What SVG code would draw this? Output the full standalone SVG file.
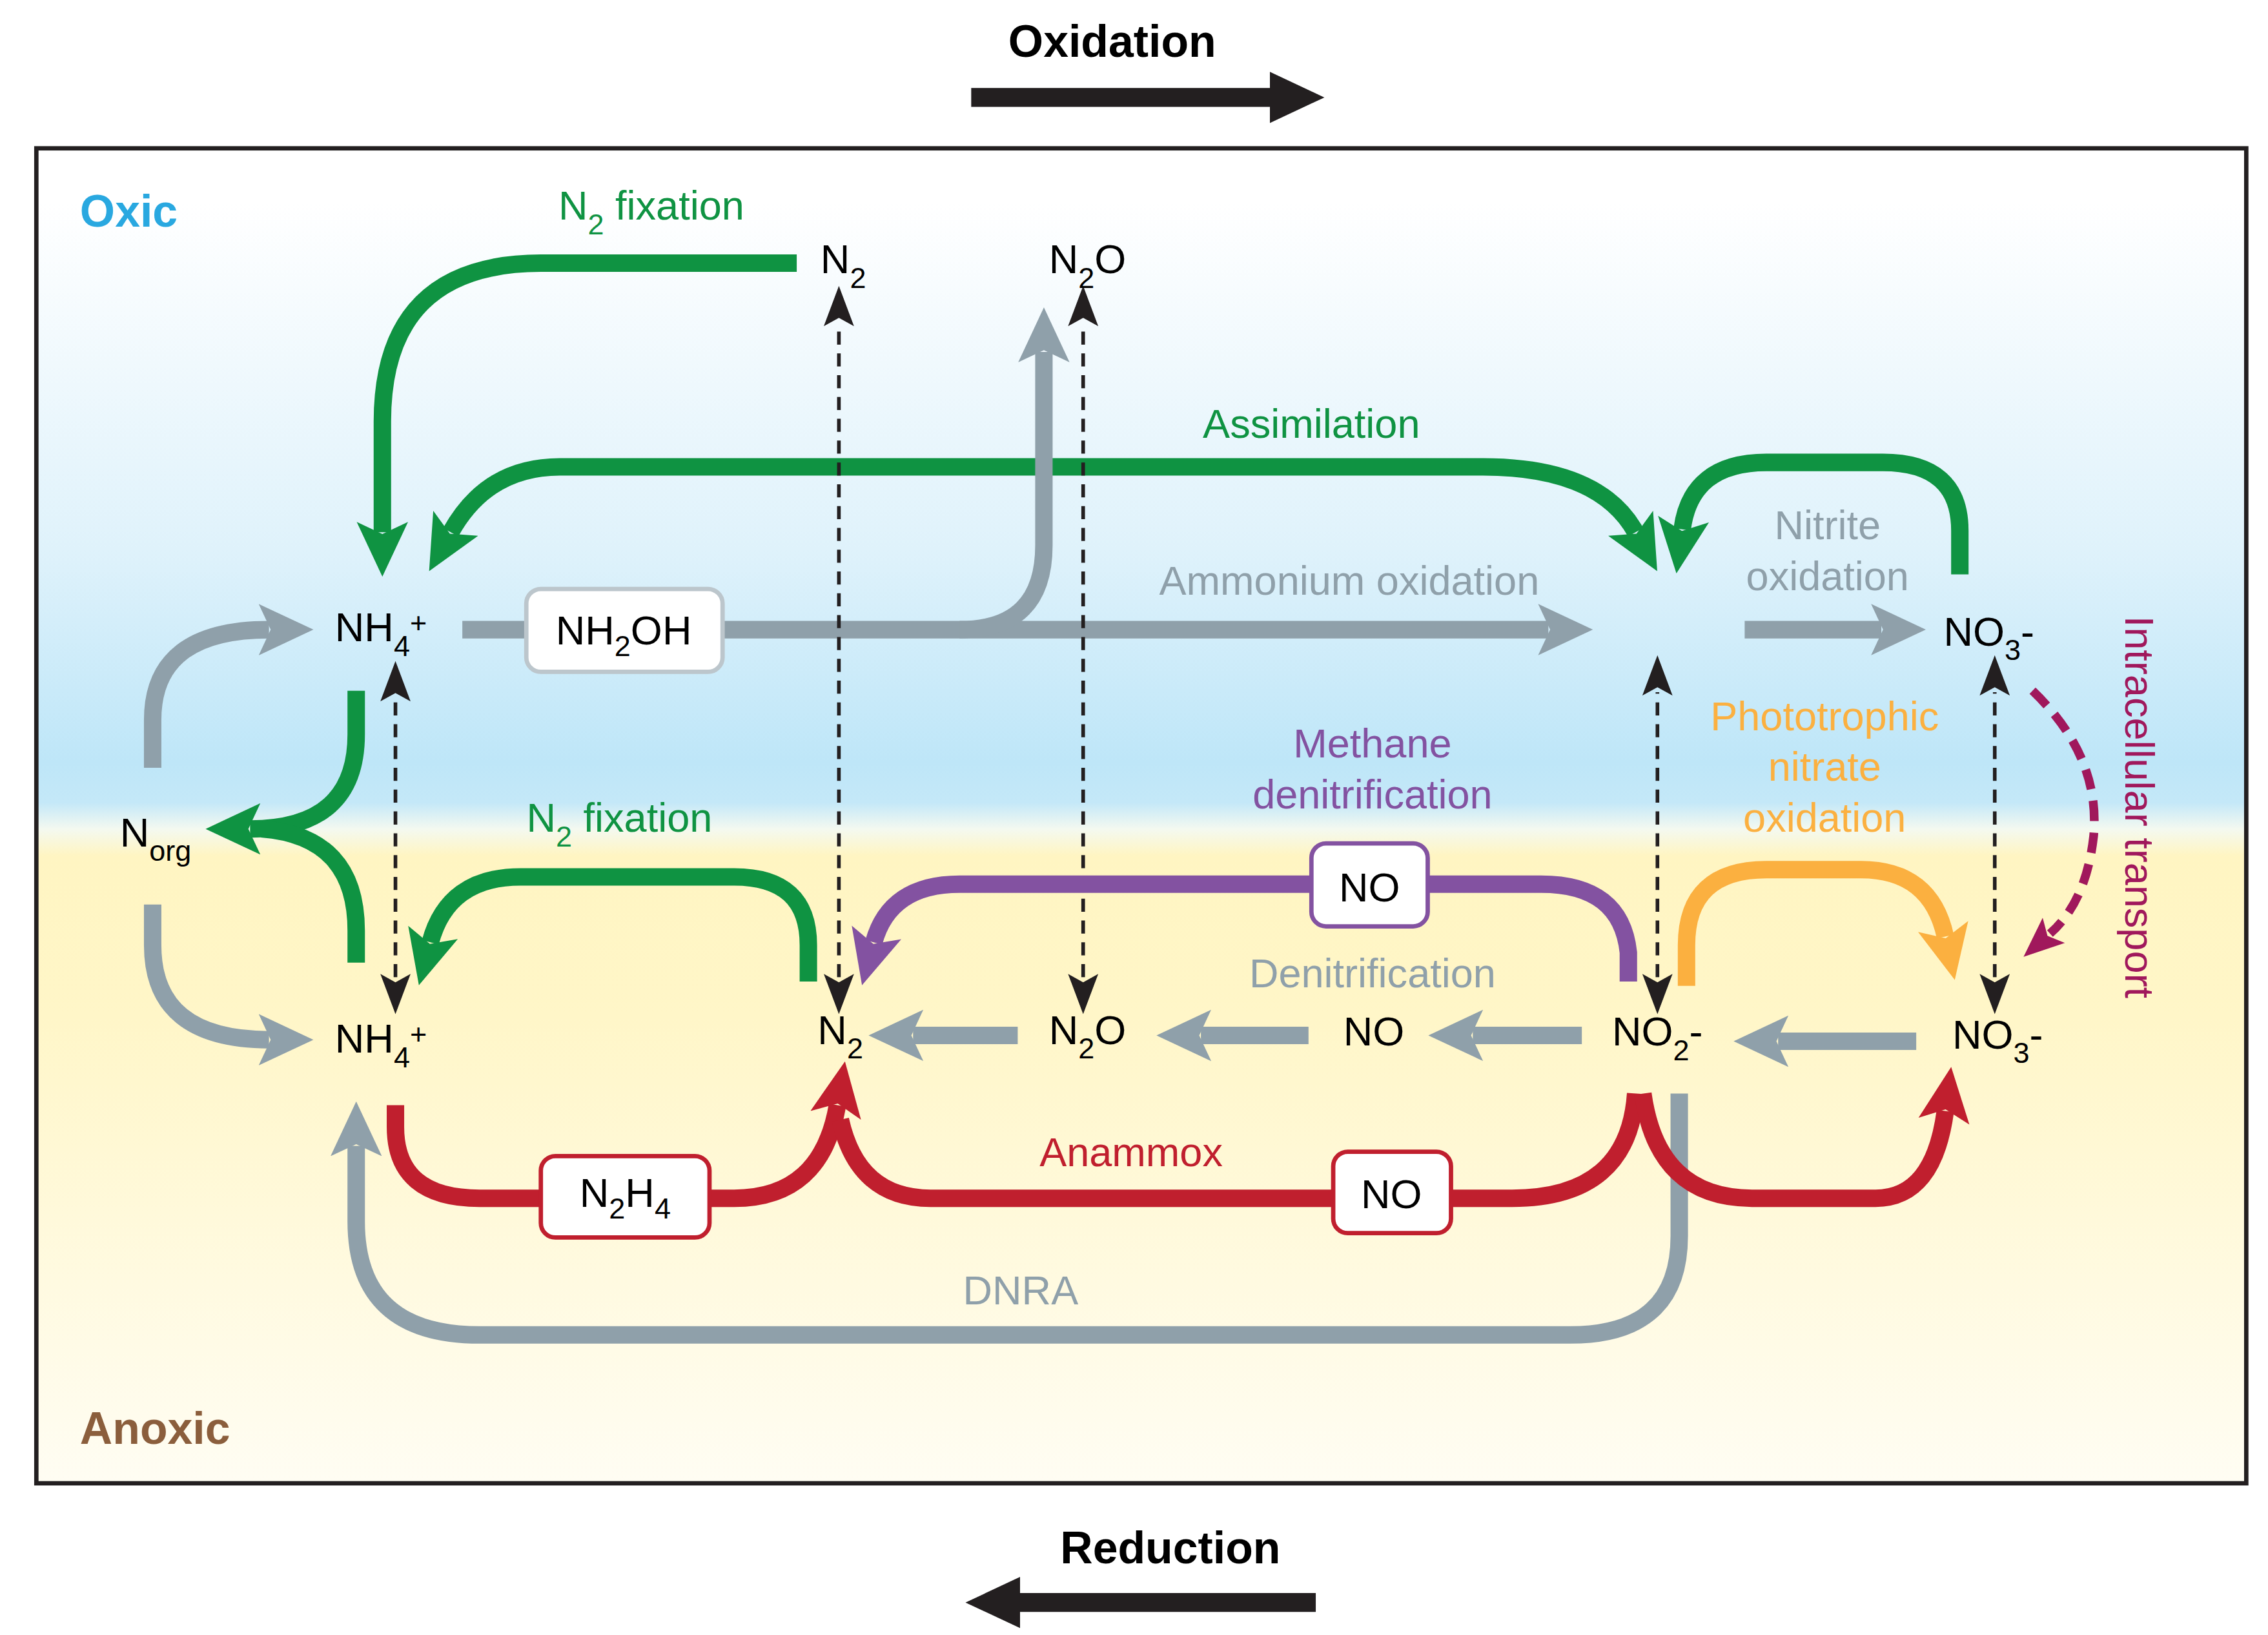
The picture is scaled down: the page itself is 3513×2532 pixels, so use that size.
<svg xmlns="http://www.w3.org/2000/svg" width="3513" height="2532" viewBox="0 0 3513 2532">
<defs>
<linearGradient id="bg" x1="0" y1="102" x2="0" y2="1020" gradientUnits="userSpaceOnUse">
<stop offset="0.04" stop-color="#ffffff"/><stop offset="0.3" stop-color="#dff2fb"/><stop offset="0.46" stop-color="#bee6f8"/><stop offset="0.49" stop-color="#c4e8f8"/><stop offset="0.51" stop-color="#f4f9f0"/><stop offset="0.53" stop-color="#fff5c2"/><stop offset="0.65" stop-color="#fff6c8"/><stop offset="1" stop-color="#fffdf3"/>
</linearGradient>
<marker id="mg" markerUnits="userSpaceOnUse" markerWidth="40" markerHeight="40" viewBox="0 -16 34 32" refX="6" refY="0" orient="auto-start-reverse"><path d="M0,-15 L32,0 L0,15 L7,0 z" fill="#0f9342"/></marker>
<marker id="mr" markerUnits="userSpaceOnUse" markerWidth="40" markerHeight="40" viewBox="0 -16 34 32" refX="6" refY="0" orient="auto-start-reverse"><path d="M0,-15 L32,0 L0,15 L7,0 z" fill="#c01f2e"/></marker>
<marker id="mgr" markerUnits="userSpaceOnUse" markerWidth="40" markerHeight="40" viewBox="0 -16 34 32" refX="6" refY="0" orient="auto-start-reverse"><path d="M0,-15 L32,0 L0,15 L7,0 z" fill="#8fa0aa"/></marker>
<marker id="mp" markerUnits="userSpaceOnUse" markerWidth="40" markerHeight="40" viewBox="0 -16 34 32" refX="6" refY="0" orient="auto-start-reverse"><path d="M0,-15 L32,0 L0,15 L7,0 z" fill="#8352a1"/></marker>
<marker id="mo" markerUnits="userSpaceOnUse" markerWidth="40" markerHeight="40" viewBox="0 -16 34 32" refX="6" refY="0" orient="auto-start-reverse"><path d="M0,-15 L32,0 L0,15 L7,0 z" fill="#fbb040"/></marker>
<marker id="mb" markerUnits="userSpaceOnUse" markerWidth="30" markerHeight="30" viewBox="0 -10 26 20" refX="2" refY="0" orient="auto-start-reverse"><path d="M0,-9 L24,0 L0,9 L5,0 z" fill="#231f20"/></marker>
<marker id="mm" markerUnits="userSpaceOnUse" markerWidth="30" markerHeight="30" viewBox="0 -10 26 20" refX="3" refY="0" orient="auto-start-reverse"><path d="M0,-10 L24,0 L0,10 L5,0 z" fill="#a0185c"/></marker>
<marker id="mk" markerUnits="userSpaceOnUse" markerWidth="40" markerHeight="40" viewBox="0 -16 34 32" refX="4" refY="0" orient="auto"><path d="M0,-15 L32,0 L0,15 L0,0 z" fill="#231f20"/></marker>
</defs>
<style>
text{font-family:"Liberation Sans",Arial,sans-serif;font-size:28px;text-anchor:middle}
.b{font-weight:bold;font-size:31px}
.g{fill:#0f9342}.gr{fill:#8fa0aa}.r{fill:#c01f2e}.p{fill:#8352a1}.o{fill:#fbb040}.m{fill:#a0185c}
.s{font-size:20px}
.f{fill:none;stroke-width:12}
.sg{stroke:#0f9342}.sgr{stroke:#8fa0aa}.sr{stroke:#c01f2e}.sp{stroke:#8352a1}.so{stroke:#fbb040}
.d{fill:none;stroke:#231f20;stroke-width:2.5;stroke-dasharray:9 6}
.box{fill:#fff;stroke-width:3}
</style>
<g transform="scale(2.252)">
<rect x="25" y="102" width="1520" height="918" fill="url(#bg)" stroke="#231f20" stroke-width="3"/>
<g id="axes">
<text class="b" x="765" y="39">Oxidation</text>
<line x1="668" y1="67" x2="878" y2="67" stroke="#231f20" stroke-width="13" marker-end="url(#mk)"/>
<text class="b" x="805" y="1075">Reduction</text>
<line x1="905" y1="1102" x2="697" y2="1102" stroke="#231f20" stroke-width="13" marker-end="url(#mk)"/>
<text class="b" x="55" y="156" style="text-anchor:start;fill:#29a8e0">Oxic</text>
<text class="b" x="55" y="993" style="text-anchor:start;fill:#8b5e3c">Anoxic</text>
</g>
<g id="connectors">
<path class="f sg" d="M548,181 H372 Q263,181 263,290 V366" marker-end="url(#mg)"/>
<path class="f sg" d="M1125,366 Q1100,321 1020,321 H385 Q335,321 310,366" marker-start="url(#mg)" marker-end="url(#mg)"/>
<path class="f sg" d="M1348,395 V365 Q1348,318 1295,318 H1215 Q1163,318 1157,364" marker-end="url(#mg)"/>
<path class="f sgr" d="M318,433 H1065" marker-end="url(#mgr)"/>
<path class="f sgr" d="M660,433 Q718,433 718,375 V242" marker-end="url(#mgr)"/>
<path class="f sgr" d="M1200,433 H1294" marker-end="url(#mgr)"/>
<path class="f sgr" d="M105,528 V495 Q105,433 185,433" marker-end="url(#mgr)"/>
<path class="f sgr" d="M105,622 V650 Q105,715 185,715" marker-end="url(#mgr)"/>
<path class="f sg" d="M245,475 V505 Q245,570 172,570" marker-end="url(#mg)"/>
<path class="f sg" d="M245,662 V640 Q245,575 180,570"/>
<path class="d" d="M272,672 V480" marker-start="url(#mb)" marker-end="url(#mb)"/>
<path class="d" d="M577,672 V222" marker-start="url(#mb)" marker-end="url(#mb)"/>
<path class="d" d="M745,672 V222" marker-start="url(#mb)" marker-end="url(#mb)"/>
<path class="d" d="M1140,672 V476" marker-start="url(#mb)" marker-end="url(#mb)"/>
<path class="d" d="M1372,672 V476" marker-start="url(#mb)" marker-end="url(#mb)"/>
<path class="f sg" d="M556,675 V650 Q556,603 505,603 H358 Q308,603 296,648" marker-end="url(#mg)"/>
<path class="f sp" d="M1120,675 V655 Q1115,608 1060,608 H660 Q612,608 601,648" marker-end="url(#mp)"/>
<path class="f so" d="M1160,678 V650 Q1160,598 1215,598 H1280 Q1328,598 1338,644" marker-end="url(#mo)"/>
<path d="M1398,475 Q1445,520 1440,575 Q1435,620 1410,642" fill="none" stroke="#a0185c" stroke-width="6" stroke-dasharray="14 8" marker-end="url(#mm)"/>
<path class="f sgr" d="M700,712 H628" marker-end="url(#mgr)"/>
<path class="f sgr" d="M900,712 H826" marker-end="url(#mgr)"/>
<path class="f sgr" d="M1088,712 H1013" marker-end="url(#mgr)"/>
<path class="f sgr" d="M1318,716 H1223" marker-end="url(#mgr)"/>
<path class="f sgr" d="M1155,752 V850 Q1155,918 1080,918 H330 Q245,918 245,840 V788" marker-end="url(#mgr)"/>
<path class="f sr" d="M272,760 V775 Q272,824 330,824 H372"/>
<path class="f sr" d="M488,824 H505 Q565,824 576,760" marker-end="url(#mr)"/>
<path class="f sr" d="M1125,752 Q1120,824 1040,824 H640 Q590,824 578,770"/>
<path class="f sr" d="M1130,752 Q1140,824 1205,824 H1290 Q1330,824 1338,764" marker-end="url(#mr)"/>
</g>
<g id="boxes">
<rect class="box" x="362" y="405" width="135" height="57" rx="10" stroke="#bcc6cc"/>
<text x="429" y="443">NH<tspan class="s" dy="8">2</tspan><tspan dy="-8">OH</tspan></text>
<rect class="box" x="902" y="580" width="80" height="57" rx="10" stroke="#8352a1"/>
<text x="942" y="620">NO</text>
<rect class="box" x="917" y="792" width="81" height="56" rx="10" stroke="#c01f2e"/>
<text x="957" y="831">NO</text>
<rect class="box" x="372" y="795" width="116" height="56" rx="10" stroke="#c01f2e"/>
<text x="430" y="830">N<tspan class="s" dy="8">2</tspan><tspan dy="-8">H</tspan><tspan class="s" dy="8">4</tspan></text>
</g>
<g id="nodes">
<text x="580" y="188">N<tspan class="s" dy="10">2</tspan></text>
<text x="748" y="188">N<tspan class="s" dy="10">2</tspan><tspan dy="-10">O</tspan></text>
<text x="262" y="441">NH<tspan class="s" dy="10">4</tspan><tspan class="s" dy="-16">+</tspan></text>
<text x="1368" y="444">NO<tspan class="s" dy="10">3</tspan><tspan dy="-10">-</tspan></text>
<text x="107" y="582">N<tspan class="s" dy="10">org</tspan></text>
<text x="262" y="724">NH<tspan class="s" dy="10">4</tspan><tspan class="s" dy="-16">+</tspan></text>
<text x="578" y="718">N<tspan class="s" dy="10">2</tspan></text>
<text x="748" y="718">N<tspan class="s" dy="10">2</tspan><tspan dy="-10">O</tspan></text>
<text x="945" y="719">NO</text>
<text x="1140" y="719">NO<tspan class="s" dy="10">2</tspan><tspan dy="-10">-</tspan></text>
<text x="1374" y="721">NO<tspan class="s" dy="10">3</tspan><tspan dy="-10">-</tspan></text>
</g>
<g id="labels">
<text class="g" x="448" y="151">N<tspan class="s" dy="10">2</tspan><tspan dy="-10"> fixation</tspan></text>
<text class="g" x="902" y="301">Assimilation</text>
<text class="gr" x="928" y="409">Ammonium oxidation</text>
<text class="gr" x="1257" y="371">Nitrite</text>
<text class="gr" x="1257" y="406">oxidation</text>
<text class="o" x="1255" y="502">Phototrophic</text>
<text class="o" x="1255" y="537">nitrate</text>
<text class="o" x="1255" y="572">oxidation</text>
<text class="p" x="944" y="521">Methane</text>
<text class="p" x="944" y="556">denitrification</text>
<text class="g" x="426" y="572">N<tspan class="s" dy="10">2</tspan><tspan dy="-10"> fixation</tspan></text>
<text class="gr" x="944" y="679">Denitrification</text>
<text class="r" x="778" y="802">Anammox</text>
<text class="gr" x="702" y="897">DNRA</text>
<text class="m" transform="translate(1462,555) rotate(90)">Intracellular transport</text>
</g>
</g>
</svg>
